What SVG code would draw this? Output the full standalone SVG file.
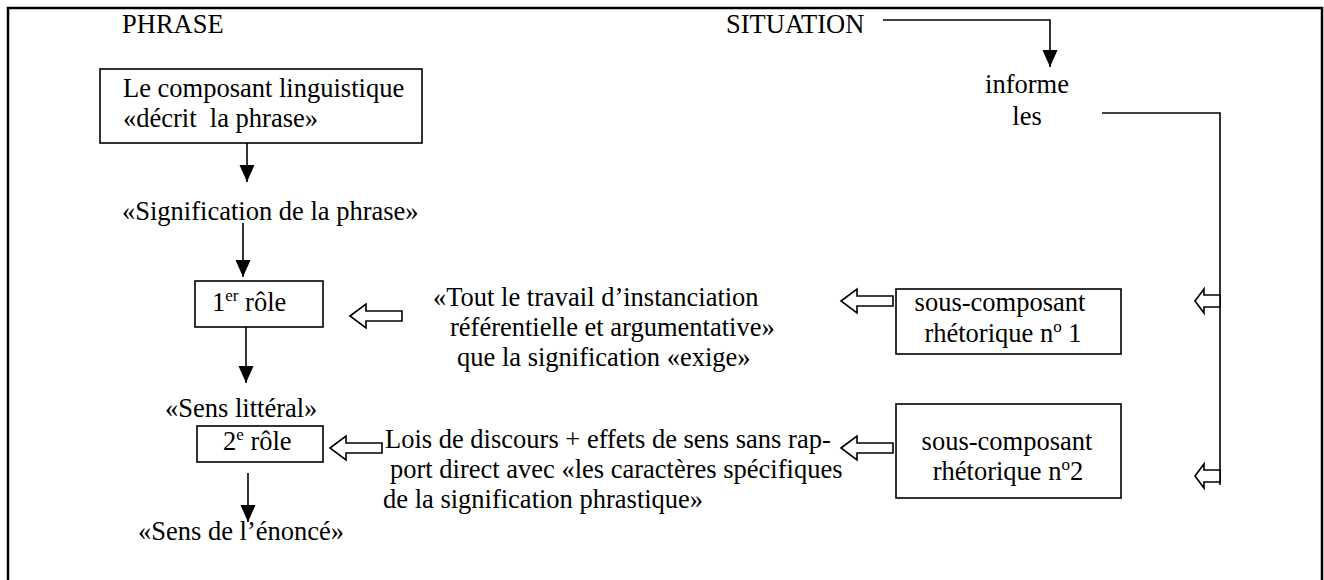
<svg xmlns="http://www.w3.org/2000/svg" width="1324" height="580" viewBox="0 0 1324 580">
<style>
text{font-family:'Liberation Serif','Times New Roman',Times,'DejaVu Serif',serif;font-size:26.5px;fill:#000;white-space:pre}
.box{fill:#fff;stroke:#000;stroke-width:1.6}
.ln{fill:none;stroke:#000;stroke-width:1.6}
.ha{fill:#fff;stroke:#000;stroke-width:1.6;stroke-linejoin:miter}
.sup{font-size:17px}
.mid{text-anchor:middle}
</style>
<defs>
<marker id="ah" markerUnits="userSpaceOnUse" markerWidth="17" markerHeight="16" viewBox="0 0 17 16" refX="17" refY="8" orient="auto">
<path d="M0,0.5 L17,8 L0,15.5 Z" fill="#000"/>
</marker>
<path id="hl" d="M0,0 L16,-12 L16,-5 L52,-5 L52,5 L16,5 L16,12 Z"/>
<path id="hs" d="M0,0 L9,-12 L9,-6 L25,-6 L25,6 L9,6 L9,12 Z"/>
</defs>
<rect width="1324" height="580" fill="#fff"/>
<path d="M8,580 L8,8 L1322,8 L1322,580" fill="none" stroke="#000" stroke-width="2.5"/>

<g id="labels" font-family="Liberation Serif, serif">
<text x="122" y="33">PHRASE</text>
<text x="726" y="33">SITUATION</text>
</g>

<g id="node-composant" font-family="Liberation Serif, serif">
<rect class="box" x="100" y="69" width="322" height="74"/>
<text x="123" y="97">Le composant linguistique</text>
<text x="123" y="127">«décrit  la phrase»</text>
</g>

<g id="node-signification">
<text x="122" y="220">«Signification de la phrase»</text>
</g>

<g id="node-role1">
<rect class="box" x="195" y="281" width="128" height="46"/>
<text x="212" y="311">1<tspan class="sup" dy="-10">er</tspan><tspan dy="10"> rôle</tspan></text>
</g>

<g id="node-sens-litteral">
<text x="165" y="417">«Sens littéral»</text>
</g>

<g id="node-role2">
<rect class="box" x="197" y="426" width="126" height="36"/>
<text x="223" y="450">2<tspan class="sup" dy="-10">e</tspan><tspan dy="10"> rôle</tspan></text>
</g>

<g id="node-sens-enonce">
<text x="138" y="540">«Sens de l’énoncé»</text>
</g>

<g id="node-informe">
<text class="mid" x="1027" y="93">informe</text>
<text class="mid" x="1027" y="125">les</text>
</g>

<g id="node-tout">
<text x="433" y="306">«Tout le travail d’instanciation</text>
<text x="450" y="336">référentielle et argumentative»</text>
<text x="457" y="366">que la signification «exige»</text>
</g>

<g id="node-lois">
<text x="385" y="448">Lois de discours + effets de sens sans rap-</text>
<text x="390" y="478">port direct avec «les caractères spécifiques</text>
<text x="383" y="508">de la signification phrastique»</text>
</g>

<g id="node-sc1">
<rect class="box" x="896" y="289" width="225" height="65"/>
<text class="mid" x="1000" y="311">sous-composant</text>
<text class="mid" x="1003" y="342">rhétorique n<tspan class="sup" dy="-10">o</tspan><tspan dy="10"> 1</tspan></text>
</g>

<g id="node-sc2">
<rect class="box" x="896" y="404" width="225" height="94"/>
<text class="mid" x="1007" y="450">sous-composant</text>
<text class="mid" x="1008" y="480">rhétorique n<tspan class="sup" dy="-10">o</tspan><tspan dy="10">2</tspan></text>
</g>

<g id="connectors">
<polyline class="ln" points="883,20 1050,20 1050,67" marker-end="url(#ah)"/>
<line class="ln" x1="247" y1="143" x2="247" y2="182" marker-end="url(#ah)"/>
<line class="ln" x1="243" y1="223" x2="243" y2="277" marker-end="url(#ah)"/>
<line class="ln" x1="246" y1="327" x2="246" y2="383" marker-end="url(#ah)"/>
<line class="ln" x1="248" y1="473" x2="248" y2="522" marker-end="url(#ah)"/>
<polyline class="ln" points="1102,113 1220,113 1220,485"/>
<use href="#hl" class="ha" transform="translate(350,316)"/>
<use href="#hl" class="ha" transform="translate(330,448)"/>
<use href="#hl" class="ha" transform="translate(841,301)"/>
<use href="#hl" class="ha" transform="translate(841,448)"/>
<use href="#hs" class="ha" transform="translate(1195,301)"/>
<use href="#hs" class="ha" transform="translate(1195,476)"/>
</g>
</svg>
